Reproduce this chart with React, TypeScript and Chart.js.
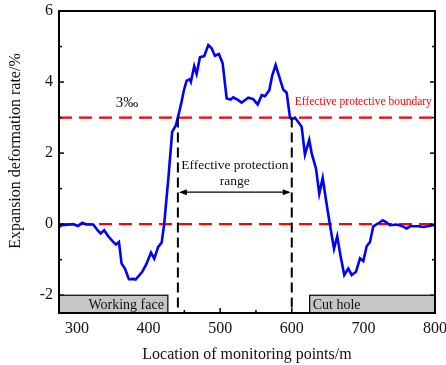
import React, { useEffect, useRef } from 'react';
import { Chart, registerables } from 'chart.js';

Chart.register(...registerables);

// ---- Data ----
const monitoringPoints = [
  275.3, 278.6, 294.8, 301.8, 307.4, 313.5, 322.8, 329.7, 333.1, 338.1,
  343.7, 350.7, 354.5, 358.7, 362.4, 367.0, 372.6, 378.6, 382.0, 391.2,
  397.3, 403.4, 408.0, 413.5, 418.3, 422.0, 425.3, 427.5, 433.0, 438.3,
  442.9, 446.2, 449.4, 453.2, 457.8, 459.2, 463.8, 467.2, 471.8, 477.8,
  483.4, 488.1, 492.7, 498.3, 503.5, 509.1, 514.6, 518.3, 525.3, 530.0,
  539.2, 546.2, 552.4, 558.0, 562.6, 568.6, 572.8, 577.5, 582.5, 588.1,
  592.9, 597.5, 599.9, 604.5, 613.8, 618.4, 624.4, 627.8, 633.8, 638.4,
  643.2, 647.8, 653.4, 659.0, 663.5, 668.3, 673.3, 678.9, 683.7, 689.7,
  695.3, 699.9, 704.6, 709.2, 713.8, 720.8, 727.0, 731.6, 737.2, 746.5,
  753.5, 760.5, 765.1, 776.7, 783.7, 797.6, 800.0,
];
const expansionRate = [
  -0.08, -0.03, 0.0, -0.05, 0.04, -0.01, -0.01, -0.19, -0.26, -0.17,
  -0.34, -0.5, -0.57, -0.5, -1.11, -1.25, -1.55, -1.54, -1.56, -1.34,
  -1.11, -0.8, -0.97, -0.64, -0.52, 0.02, 0.77, 1.24, 2.6, 2.79,
  3.16, 3.45, 3.77, 4.04, 4.08, 4.01, 4.45, 4.23, 4.7, 4.73,
  5.04, 4.95, 4.74, 4.79, 4.53, 3.54, 3.51, 3.57, 3.49, 3.42,
  3.56, 3.52, 3.37, 3.63, 3.6, 3.77, 4.19, 4.48, 4.15, 3.79,
  3.7, 3.0, 2.95, 3.0, 2.74, 1.96, 2.37, 1.99, 1.57, 0.86,
  1.3, 0.68, -0.03, -0.69, -0.34, -0.92, -1.43, -1.25, -1.43, -1.34,
  -0.96, -1.04, -0.62, -0.5, -0.06, 0.02, 0.11, 0.06, -0.03, -0.01,
  -0.05, -0.12, -0.06, -0.06, -0.08, -0.03, -0.02,
];

const xTickValues = [300, 400, 500, 600, 700, 800];
const xMinorTickValues = [350, 450, 550, 650, 750];
const yTickValues = [-2, 0, 2, 4, 6];
const yMinorTickValues = [-1, 1, 3, 5];
const xRange = [275, 800];
const yRange = [-2.5, 6];

const thresholdRate = 3;
const baselineRate = 0;
const protectionStart = 441;
const protectionEnd = 600;
const workingFaceEnd = 427;
const cutHoleStart = 625;
const bandTop = -2;
const arrowLevel = 0.9;
const thresholdLabel = '3‰';
const boundaryLabel = 'Effective protective boundary';
const rangeLabelLines = ['Effective protection', 'range'];
const rangeLabelLevels = [1.66, 1.2];
const thresholdLabelPos = [370, 3.4];
const workingFaceLabel = 'Working face';
const cutHoleLabel = 'Cut hole';
const xTitle = 'Location of monitoring points/m';
const yTitle = 'Expansion deformation rate/%';

const SERIF = "'Liberation Serif', 'Times New Roman', serif";

export default function App() {
  const canvasRef = useRef<HTMLCanvasElement>(null);

  useEffect(() => {
    const canvas = canvasRef.current;
    if (!canvas) return;

    const overlay = {
      id: 'overlay',
      beforeDatasetsDraw(chart: any) {
        const { ctx, chartArea: a, scales } = chart;
        const y = scales.y;
        ctx.save();
        ctx.strokeStyle = '#ff0000';
        ctx.lineWidth = 2.2;
        ctx.setLineDash([13, 7]);
        [thresholdRate, baselineRate].forEach((v) => {
          const py = y.getPixelForValue(v);
          ctx.beginPath();
          ctx.moveTo(a.left, py);
          ctx.lineTo(a.right, py);
          ctx.stroke();
        });
        ctx.restore();
      },
      afterDatasetsDraw(chart: any) {
        const { ctx, chartArea: a, scales } = chart;
        const x = scales.x, y = scales.y;
        ctx.save();
        ctx.strokeStyle = '#000';
        ctx.lineWidth = 2;
        ctx.setLineDash([10, 5]);
        [protectionStart, protectionEnd].forEach((v) => {
          const px = x.getPixelForValue(v);
          ctx.beginPath();
          ctx.moveTo(px, y.getPixelForValue(thresholdRate));
          ctx.lineTo(px, a.bottom);
          ctx.stroke();
        });
        ctx.setLineDash([]);

        const ay = y.getPixelForValue(arrowLevel);
        const x1 = x.getPixelForValue(protectionStart) + 1;
        const x2 = x.getPixelForValue(protectionEnd) - 1;
        ctx.lineWidth = 1.3;
        ctx.beginPath();
        ctx.moveTo(x1 + 4, ay);
        ctx.lineTo(x2 - 4, ay);
        ctx.stroke();
        ctx.fillStyle = '#000';
        ctx.beginPath();
        ctx.moveTo(x1, ay);
        ctx.lineTo(x1 + 8, ay - 3);
        ctx.lineTo(x1 + 8, ay + 3);
        ctx.closePath();
        ctx.fill();
        ctx.beginPath();
        ctx.moveTo(x2, ay);
        ctx.lineTo(x2 - 8, ay - 3);
        ctx.lineTo(x2 - 8, ay + 3);
        ctx.closePath();
        ctx.fill();

        ctx.textAlign = 'center';
        ctx.textBaseline = 'middle';
        ctx.fillStyle = '#111';
        ctx.font = `13.5px ${SERIF}`;
        const cx = (x.getPixelForValue(protectionStart) + x.getPixelForValue(protectionEnd)) / 2;
        rangeLabelLines.forEach((t, i) => {
          ctx.fillText(t, cx, y.getPixelForValue(rangeLabelLevels[i]));
        });
        ctx.font = `15px ${SERIF}`;
        ctx.fillText(thresholdLabel, x.getPixelForValue(thresholdLabelPos[0]), y.getPixelForValue(thresholdLabelPos[1]));
        ctx.fillStyle = '#ff0000';
        ctx.font = `11.5px ${SERIF}`;
        ctx.textAlign = 'left';
        ctx.fillText(boundaryLabel, x.getPixelForValue(protectionEnd) + 3, y.getPixelForValue(thresholdRate) - 16);
        ctx.restore();
      },
      afterDraw(chart: any) {
        const { ctx, chartArea: a, scales } = chart;
        const x = scales.x, y = scales.y;
        ctx.save();
        ctx.strokeStyle = '#000';
        ctx.lineWidth = 1.5;
        yTickValues.forEach((v) => {
          const py = y.getPixelForValue(v);
          ctx.beginPath(); ctx.moveTo(a.left, py); ctx.lineTo(a.left + 5, py); ctx.stroke();
          ctx.beginPath(); ctx.moveTo(a.right, py); ctx.lineTo(a.right - 5, py); ctx.stroke();
        });
        yMinorTickValues.forEach((v) => {
          const py = y.getPixelForValue(v);
          ctx.beginPath(); ctx.moveTo(a.left, py); ctx.lineTo(a.left + 3, py); ctx.stroke();
          ctx.beginPath(); ctx.moveTo(a.right, py); ctx.lineTo(a.right - 3, py); ctx.stroke();
        });
        xTickValues.forEach((v) => {
          const px = x.getPixelForValue(v);
          ctx.beginPath(); ctx.moveTo(px, a.bottom); ctx.lineTo(px, a.bottom - 5); ctx.stroke();
        });
        xMinorTickValues.forEach((v) => {
          const px = x.getPixelForValue(v);
          ctx.beginPath(); ctx.moveTo(px, a.bottom); ctx.lineTo(px, a.bottom - 3); ctx.stroke();
        });

        const by = y.getPixelForValue(bandTop);
        ctx.fillStyle = '#c6c6c6';
        ctx.lineWidth = 1.2;
        const wfR = x.getPixelForValue(workingFaceEnd);
        const chL = x.getPixelForValue(cutHoleStart);
        ctx.fillRect(a.left, by, wfR - a.left, a.bottom - by);
        ctx.strokeRect(a.left, by, wfR - a.left, a.bottom - by);
        ctx.fillRect(chL, by, a.right - chL, a.bottom - by);
        ctx.strokeRect(chL, by, a.right - chL, a.bottom - by);
        ctx.fillStyle = '#111';
        ctx.font = `14px ${SERIF}`;
        ctx.textBaseline = 'middle';
        ctx.textAlign = 'right';
        ctx.fillText(workingFaceLabel, wfR - 4, (by + a.bottom) / 2 + 1);
        ctx.textAlign = 'left';
        ctx.fillText(cutHoleLabel, chL + 3, (by + a.bottom) / 2 + 1);

        ctx.strokeStyle = '#000';
        ctx.lineWidth = 2;
        ctx.strokeRect(a.left, a.top, a.right - a.left, a.bottom - a.top);

        ctx.translate(16, 151);
        ctx.rotate(-Math.PI / 2);
        ctx.textAlign = 'center';
        ctx.textBaseline = 'middle';
        ctx.font = `16px ${SERIF}`;
        ctx.fillStyle = '#111';
        ctx.fillText(yTitle, 0, 0);
        ctx.restore();
      },
    };

    const chart = new Chart(canvas, {
      type: 'line',
      data: {
        datasets: [
          {
            data: monitoringPoints.map((m, i) => ({ x: m, y: expansionRate[i] })),
            borderColor: '#0000ff',
            borderWidth: 2.6,
            pointRadius: 0,
            tension: 0,
            fill: false,
          },
        ],
      },
      options: {
        animation: false,
        responsive: true,
        maintainAspectRatio: false,
        layout: { autoPadding: false, padding: { left: 0, top: 11, right: 11, bottom: 0 } },
        plugins: { legend: { display: false }, tooltip: { enabled: false } },
        scales: {
          x: {
            type: 'linear',
            min: xRange[0],
            max: xRange[1],
            grid: { display: false, drawTicks: false },
            border: { display: false },
            ticks: {
              stepSize: 100,
              includeBounds: false,
              autoSkip: false,
              maxRotation: 0,
              padding: 6,
              color: '#111',
              font: { family: SERIF, size: 16 },
              callback: (v: any) => (xTickValues.includes(Number(v)) ? String(v) : ''),
            },
            title: {
              display: true,
              text: xTitle,
              color: '#111',
              font: { family: SERIF, size: 16 },
              padding: { top: 0, bottom: 1 },
            },
            afterFit: (s: any) => {
              s.height = 52;
              s.paddingLeft = 0; s.paddingRight = 0; s.paddingTop = 0; s.paddingBottom = 0;
            },
          },
          y: {
            type: 'linear',
            min: yRange[0],
            max: yRange[1],
            grid: { display: false, drawTicks: false },
            border: { display: false },
            ticks: {
              stepSize: 2,
              includeBounds: false,
              autoSkip: false,
              padding: 6,
              color: '#111',
              font: { family: SERIF, size: 16 },
              callback: (v: any) => (yTickValues.includes(Number(v)) ? String(v) : ''),
            },
            afterFit: (s: any) => {
              s.width = 59;
              s.paddingLeft = 0; s.paddingRight = 0; s.paddingTop = 0; s.paddingBottom = 0;
            },
          },
        },
      },
      plugins: [overlay],
    });

    return () => chart.destroy();
  }, []);

  return (
    <div style={{ position: 'fixed', left: 0, top: 0, width: 446, height: 365, background: '#fff' }}>
      <canvas ref={canvasRef} />
    </div>
  );
}
